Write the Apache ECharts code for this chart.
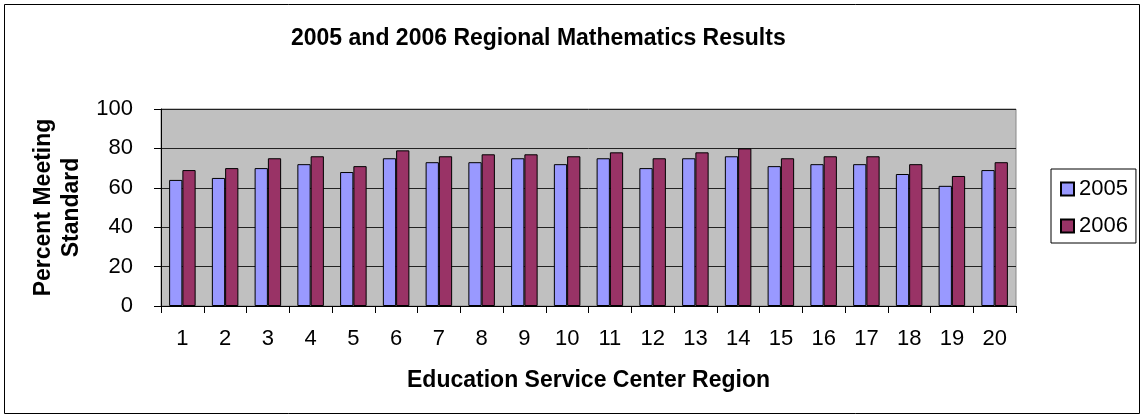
<!DOCTYPE html>
<html><head><meta charset="utf-8">
<script src="https://cdn.jsdelivr.net/npm/echarts@6/dist/echarts.min.js"></script>
<style>html,body{margin:0;padding:0;background:#fff}#c{width:1143px;height:418px}</style>
</head><body><div id="c"></div>
<script>
const regions = ['1','2','3','4','5','6','7','8','9','10','11','12','13','14','15','16','17','18','19','20'];
const values2005 = [64,65,70,72,68,75,73,73,75,72,75,70,75,76,71,72,72,67,61,69];
const values2006 = [69,70,75,76,71,79,76,77,77,76,78,75,78,80,75,76,76,72,66,73];
const yTicks = [0,20,40,60,80,100];

const F = '"Liberation Sans", Arial, sans-serif';
const chart = echarts.init(document.getElementById('c'), null, {renderer:'canvas'});
chart.setOption({
  animation:false,
  backgroundColor:'#fff',
  textStyle:{fontFamily:F},
  title:{text:'2005 and 2006 Regional Mathematics Results', left:286, top:22,
    textStyle:{fontFamily:F, fontSize:23, fontWeight:'bold', color:'#000'}},
  graphic:[{type:'rect', shape:{x:4.5,y:4.5,width:1135,height:409}, style:{fill:'none', stroke:'#000', lineWidth:1}, silent:true}],
  legend:{orient:'vertical', left:1051, top:169, width:89, padding:[9,8,6,9], itemGap:15, itemTextGap:9,
    borderColor:'#000', borderWidth:1, itemWidth:13, itemHeight:13, icon:'rect',
    textStyle:{fontFamily:F, fontSize:22, color:'#000'}, data:['2005','2006']},
  grid:{left:161, right:127, top:109, bottom:112, show:true, backgroundColor:'#C0C0C0', borderColor:'#888', borderWidth:1},
  xAxis:{type:'category', data:regions, name:'Education Service Center Region', nameLocation:'middle', nameGap:63,
    nameTextStyle:{fontFamily:F, fontSize:23, fontWeight:'bold', color:'#000'},
    axisLine:{show:true, lineStyle:{color:'#000'}}, axisTick:{show:true, length:7, lineStyle:{color:'#000'}},
    axisLabel:{fontFamily:F, fontSize:22, color:'#000', margin:22}},
  yAxis:{type:'value', min:0, max:100, interval:20, name:'Percent Meeting\nStandard', nameLocation:'middle', nameRotate:90, nameGap:74,
    nameTextStyle:{fontFamily:F, fontSize:23, fontWeight:'bold', color:'#000', lineHeight:28},
    axisLine:{show:true, lineStyle:{color:'#000'}}, axisTick:{show:true, length:7, lineStyle:{color:'#000'}},
    axisLabel:{fontFamily:F, fontSize:22, color:'#000', margin:28, formatter:v=>yTicks.includes(v)?String(v):''},
    splitLine:{lineStyle:{color:'#222', width:1}}},
  series:[
    {name:'2005', type:'bar', data:values2005, barGap:'0%', barCategoryGap:'38%',
     itemStyle:{color:'#9999FF', borderColor:'#000', borderWidth:1}},
    {name:'2006', type:'bar', data:values2006, barGap:'0%', barCategoryGap:'38%',
     itemStyle:{color:'#993366', borderColor:'#000', borderWidth:1}}
  ]
});
</script></body></html>
